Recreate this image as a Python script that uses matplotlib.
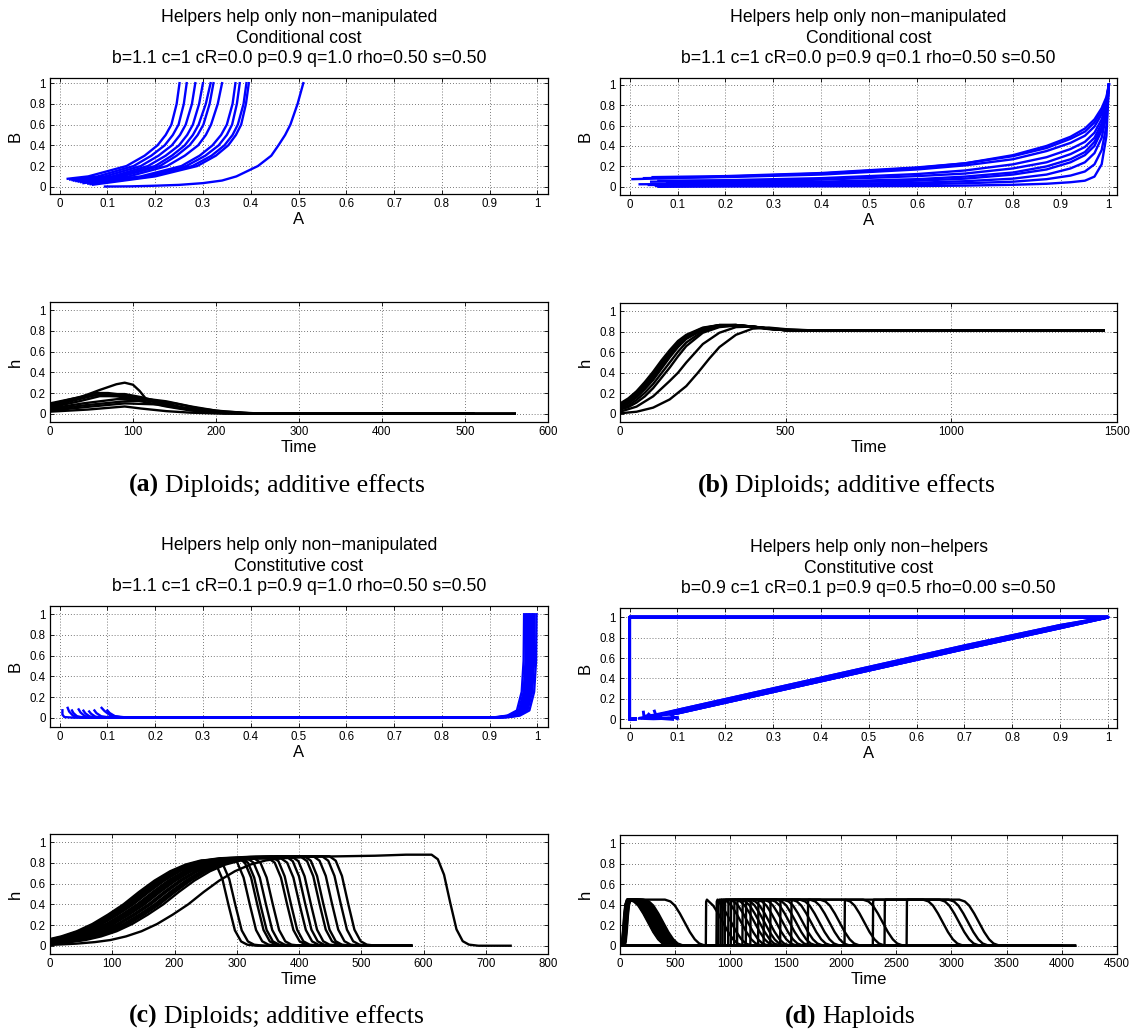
import matplotlib
matplotlib.use("Agg")
import matplotlib.pyplot as plt
from matplotlib.ticker import FuncFormatter

plt.rcParams['font.family'] = ['Liberation Sans', 'DejaVu Sans']

W, H = 1137, 1032
LW = 1.7

# ---------------- (a) top: B against A, read at fixed B levels
PA_B_LEVELS = [0.1, 0.2, 0.3, 0.4, 0.5, 0.6, 0.8, 1.0]
PA_LEADS = [
    [(0.017, 0.077)], [(0.022, 0.07)], [(0.027, 0.065)], [(0.03, 0.06)],
    [(0.035, 0.055)], [(0.04, 0.05)], [(0.045, 0.045)], [(0.05, 0.035)],
    [(0.06, 0.03)], [(0.065, 0.025)], [(0.07, 0.02)],
    [(0.095, 0.002), (0.15, 0.004), (0.2, 0.01), (0.25, 0.018), (0.3, 0.035), (0.34, 0.06)],
]
PA_A = [
    [0.06, 0.14, 0.178, 0.205, 0.222, 0.234, 0.245, 0.251],
    [0.08, 0.155, 0.192, 0.22, 0.237, 0.249, 0.260, 0.266],
    [0.095, 0.17, 0.207, 0.235, 0.252, 0.264, 0.277, 0.284],
    [0.11, 0.185, 0.222, 0.25, 0.267, 0.279, 0.292, 0.300],
    [0.12, 0.2, 0.235, 0.262, 0.279, 0.291, 0.306, 0.316],
    [0.13, 0.21, 0.245, 0.272, 0.289, 0.301, 0.314, 0.322],
    [0.145, 0.225, 0.262, 0.29, 0.306, 0.317, 0.331, 0.340],
    [0.17, 0.255, 0.293, 0.32, 0.338, 0.35, 0.362, 0.368],
    [0.18, 0.265, 0.305, 0.333, 0.35, 0.361, 0.371, 0.377],
    [0.19, 0.278, 0.318, 0.345, 0.362, 0.373, 0.385, 0.391],
    [0.2, 0.288, 0.327, 0.353, 0.369, 0.38, 0.390, 0.396],
    [0.37, 0.415, 0.443, 0.458, 0.472, 0.483, 0.498, 0.510],
]

# ---------------- (b) top: B read at fixed A levels
PB_A_LEVELS = [0.2, 0.4, 0.6, 0.7, 0.8, 0.87, 0.92, 0.95, 0.97, 0.985, 0.995, 1.0]
PB_START = [(0.006, 0.075), (0.048, 0.095), (0.03, 0.085), (0.06, 0.06), (0.045, 0.05),
            (0.021, 0.025), (0.078, 0.04), (0.055, 0.01), (0.06, 0.0), (0.04, 0.018)]
PB_B = [
    [0.10, 0.13, 0.185, 0.23, 0.31, 0.40, 0.49, 0.57, 0.66, 0.77, 0.88, 1.0],
    [0.105, 0.135, 0.19, 0.23, 0.30, 0.38, 0.47, 0.54, 0.63, 0.74, 0.86, 1.0],
    [0.095, 0.12, 0.17, 0.21, 0.27, 0.35, 0.43, 0.50, 0.59, 0.71, 0.84, 1.0],
    [0.065, 0.085, 0.125, 0.16, 0.22, 0.29, 0.37, 0.44, 0.53, 0.66, 0.81, 1.0],
    [0.055, 0.07, 0.105, 0.13, 0.18, 0.24, 0.32, 0.39, 0.48, 0.62, 0.78, 1.0],
    [0.03, 0.04, 0.06, 0.08, 0.12, 0.17, 0.24, 0.31, 0.40, 0.55, 0.74, 1.0],
    [0.042, 0.05, 0.075, 0.10, 0.14, 0.20, 0.27, 0.34, 0.44, 0.58, 0.76, 1.0],
    [0.012, 0.017, 0.025, 0.035, 0.05, 0.075, 0.11, 0.15, 0.22, 0.36, 0.6, 1.0],
    [0.003, 0.005, 0.008, 0.012, 0.02, 0.03, 0.045, 0.06, 0.1, 0.22, 0.5, 1.0],
    [0.02, 0.027, 0.04, 0.055, 0.08, 0.12, 0.18, 0.24, 0.33, 0.48, 0.70, 1.0],
]

# ---------------- (c) top: hooks near A=0, then climb near A=1
PC_LEADS = [
    [(0.006, 0.072), (0.006, 0.03), (0.01, 0.006), (0.03, 0.0)],
    [(0.017, 0.095), (0.02, 0.06), (0.028, 0.02), (0.045, 0.002)],
    [(0.026, 0.07), (0.029, 0.045), (0.037, 0.012), (0.055, 0.001)],
    [(0.04, 0.08), (0.044, 0.05), (0.053, 0.015), (0.07, 0.002)],
    [(0.05, 0.068), (0.054, 0.042), (0.063, 0.012), (0.08, 0.001)],
    [(0.062, 0.06), (0.066, 0.038), (0.075, 0.01), (0.09, 0.001)],
    [(0.073, 0.07), (0.077, 0.045), (0.087, 0.014), (0.105, 0.002)],
    [(0.088, 0.095), (0.094, 0.065), (0.106, 0.022), (0.13, 0.003)],
    [(0.1, 0.07), (0.105, 0.045), (0.116, 0.014), (0.14, 0.002)],
]
PC_TAIL = [(-0.1, 0.001), (-0.06, 0.005), (-0.035, 0.02), (-0.015, 0.07),
           (-0.005, 0.25), (-0.001, 0.55), (0.0, 1.0)]
PC_END = [0.972, 0.976, 0.979, 0.982, 0.985, 0.988, 0.991, 0.994, 0.998]

# ---------------- (d) top: loop origin -> (1,1) -> (0,1) -> origin
PD_LEADS = [
    [(0.1, 0.02), (0.07, 0.01), (0.03, 0.02)],
    [(0.09, 0.0), (0.06, 0.01), (0.04, 0.03)],
    [(0.029, 0.07), (0.03, 0.03), (0.05, 0.04)],
    [(0.052, 0.08), (0.055, 0.04), (0.07, 0.05)],
    [(0.08, 0.01), (0.05, 0.005), (0.02, 0.01)],
    [(0.065, 0.02), (0.045, 0.015), (0.06, 0.04)],
    [(0.1, 0.005), (0.09, 0.03), (0.085, 0.05)],
    [(0.04, 0.05), (0.035, 0.02), (0.08, 0.06)],
]
PD_DIAG_A = [0.1, 0.3, 0.5, 0.7, 0.9, 1.0]
PD_DIAG_B = [
    [0.06, 0.27, 0.48, 0.69, 0.895, 1.0],
    [0.075, 0.285, 0.495, 0.705, 0.91, 1.0],
    [0.09, 0.30, 0.51, 0.72, 0.92, 1.0],
]
PD_RETURN = [(0.0, 1.0), (0.0, 0.0), (0.012, 0.004)]

# ---------------- (a) bottom: h over time
HA_CURVES = [
    [(0, 0.08), (30, 0.14), (60, 0.23), (80, 0.285), (90, 0.30), (100, 0.28), (108, 0.22), (116, 0.14), (140, 0.09), (170, 0.04), (200, 0.015), (240, 0.003), (300, 0), (510, 0)],
    [(0, 0.09), (30, 0.15), (55, 0.2), (70, 0.2), (90, 0.18), (120, 0.13), (150, 0.07), (180, 0.03), (220, 0.008), (260, 0), (560, 0)],
    [(0, 0.07), (30, 0.13), (60, 0.19), (90, 0.19), (110, 0.16), (130, 0.12), (160, 0.06), (200, 0.015), (250, 0), (510, 0)],
    [(0, 0.05), (40, 0.1), (80, 0.14), (110, 0.15), (140, 0.12), (170, 0.07), (200, 0.03), (240, 0.005), (280, 0), (560, 0)],
    [(0, 0.04), (40, 0.08), (90, 0.12), (120, 0.13), (150, 0.1), (180, 0.05), (210, 0.02), (250, 0.003), (300, 0), (510, 0)],
    [(0, 0.03), (50, 0.07), (90, 0.1), (130, 0.09), (160, 0.05), (190, 0.02), (230, 0.004), (280, 0), (560, 0)],
    [(0, 0.02), (45, 0.04), (90, 0.07), (110, 0.05), (140, 0.025), (170, 0.01), (210, 0), (510, 0)],
    [(0, 0.06), (35, 0.12), (60, 0.17), (85, 0.17), (115, 0.13), (145, 0.08), (175, 0.035), (210, 0.01), (250, 0), (560, 0)],
    [(0, 0.1), (30, 0.15), (55, 0.18), (80, 0.17), (110, 0.12), (140, 0.07), (170, 0.03), (210, 0.007), (250, 0), (510, 0)],
]

# ---------------- (b) bottom
HB_CURVES = [
    [(0, 0.10), (25, 0.15), (50, 0.22), (75, 0.31), (100, 0.41), (125, 0.52), (150, 0.62), (175, 0.71), (200, 0.77), (250, 0.84), (300, 0.865), (350, 0.865), (400, 0.845), (450, 0.825), (500, 0.815), (600, 0.81), (1460, 0.81)],
    [(0, 0.09), (25, 0.14), (50, 0.205), (75, 0.29), (100, 0.39), (125, 0.50), (150, 0.60), (175, 0.695), (200, 0.76), (250, 0.835), (300, 0.865), (350, 0.865), (400, 0.848), (450, 0.828), (500, 0.815), (600, 0.81), (1460, 0.81)],
    [(0, 0.08), (25, 0.13), (50, 0.19), (75, 0.27), (100, 0.37), (125, 0.48), (150, 0.58), (175, 0.68), (200, 0.75), (250, 0.83), (300, 0.865), (350, 0.865), (400, 0.85), (450, 0.83), (500, 0.815), (600, 0.81), (1460, 0.81)],
    [(0, 0.07), (25, 0.115), (50, 0.175), (75, 0.255), (100, 0.35), (125, 0.46), (150, 0.565), (175, 0.665), (200, 0.74), (250, 0.825), (300, 0.862), (350, 0.865), (400, 0.85), (450, 0.83), (500, 0.815), (600, 0.81), (1460, 0.81)],
    [(0, 0.06), (25, 0.1), (50, 0.16), (75, 0.24), (100, 0.33), (125, 0.44), (150, 0.55), (175, 0.65), (200, 0.73), (250, 0.82), (300, 0.86), (350, 0.865), (400, 0.85), (450, 0.83), (500, 0.815), (600, 0.81), (1460, 0.81)],
    [(0, 0.05), (25, 0.08), (50, 0.135), (75, 0.205), (100, 0.29), (125, 0.395), (150, 0.5), (175, 0.605), (200, 0.695), (250, 0.805), (300, 0.852), (350, 0.862), (400, 0.85), (450, 0.83), (500, 0.815), (600, 0.81), (1460, 0.81)],
    [(0, 0.04), (25, 0.065), (50, 0.11), (75, 0.17), (100, 0.25), (125, 0.35), (150, 0.45), (175, 0.56), (200, 0.66), (250, 0.79), (300, 0.845), (350, 0.86), (400, 0.85), (450, 0.83), (500, 0.815), (600, 0.81), (1460, 0.81)],
    [(0, 0.02), (50, 0.07), (100, 0.17), (150, 0.32), (175, 0.40), (200, 0.50), (250, 0.68), (300, 0.79), (350, 0.845), (400, 0.85), (450, 0.835), (500, 0.82), (600, 0.81), (1460, 0.81)],
    [(0, 0.005), (50, 0.02), (100, 0.06), (150, 0.14), (200, 0.27), (235, 0.4), (270, 0.54), (300, 0.65), (350, 0.77), (400, 0.83), (450, 0.84), (500, 0.825), (600, 0.81), (1460, 0.81)],
]

# ---------------- (c) bottom: rise profile and fall profile
C_RISE_DT = [-230, -180, -150, -125, -100, -75, -50, -25, 0, 25, 50, 75, 100, 125, 150, 200, 250, 300, 350, 400, 450]
C_RISE_H = [0.005, 0.02, 0.035, 0.055, 0.09, 0.14, 0.21, 0.30, 0.40, 0.52, 0.63, 0.72, 0.785, 0.825, 0.845, 0.86, 0.865, 0.87, 0.88, 0.89, 0.895]
C_FALL_DT = [-30, -20, -10, 0, 10, 20, 30, 45]
C_FALL_F = [1.0, 0.95, 0.78, 0.47, 0.18, 0.05, 0.012, 0.0]
C_RISE_MID = [118, 140, 126, 150, 134, 162, 146, 170, 130, 176, 152, 182, 158, 122, 168, 142, 174, 222]
C_FALL_MID = [287, 298, 321, 333, 338, 347, 358, 381, 387, 401, 410, 419, 433, 439, 453, 467, 479, 643]
C_END = [580, 580, 580, 580, 560, 580, 580, 540, 580, 580, 580, 580, 580, 560, 580, 580, 500, 740]

# ---------------- (d) bottom
D_TOP = 0.45
D_RISE_SLOW = [(0, 0.0), (10, 0.04), (20, 0.15), (30, 0.3), (40, 0.4), (55, 0.45)]
D_RISE_FAST = [(0, 0.0), (3, 0.43), (10, 0.45)]
D_FALL = [(-180, 1.0), (-130, 0.96), (-90, 0.87), (-45, 0.7), (0, 0.5), (45, 0.3),
          (90, 0.14), (130, 0.05), (170, 0.015), (220, 0.0)]
G1_RISE = [8, 15, 22, 12, 28, 18, 34, 24, 10, 30, 38, 16, 42, 20, 26, 32]
G1_FALL = [256, 262, 270, 278, 285, 292, 300, 308, 316, 325, 335, 348, 362, 378, 392, 587]
G1_END = [760, 800, 780, 820, 790, 770, 810, 800, 760, 780, 800, 790, 770, 810, 800, 780]
G2_RISE = [777, 873, 889, 910, 928, 949, 979, 1003, 1033, 1060, 1108, 1139, 1180, 1250,
           1300, 1360, 1450, 1550, 1700, 2033, 2289, 2395, 2595]
G2_FALL = [934, 1009, 1099, 1160, 1220, 1265, 1310, 1355, 1416, 1476, 1536, 1596, 1657, 1732,
           1807, 1898, 1990, 2214, 2380, 2924, 3072, 3154, 3252]
G2_END = [3600, 3800, 4120, 3700, 3900, 4120, 3500, 3800, 4000, 3600, 4120, 3700, 3900,
          3800, 4000, 3600, 3700, 3900, 4120, 3800, 4000, 4120, 3900]

TITLES = [
    "Helpers help only non\u2212manipulated\nConditional cost\nb=1.1 c=1 cR=0.0 p=0.9 q=1.0 rho=0.50 s=0.50",
    "Helpers help only non\u2212manipulated\nConditional cost\nb=1.1 c=1 cR=0.0 p=0.9 q=0.1 rho=0.50 s=0.50",
    "Helpers help only non\u2212manipulated\nConstitutive cost\nb=1.1 c=1 cR=0.1 p=0.9 q=1.0 rho=0.50 s=0.50",
    "Helpers help only non\u2212helpers\nConstitutive cost\nb=0.9 c=1 cR=0.1 p=0.9 q=0.5 rho=0.00 s=0.50",
]
CAPTIONS = [("(a)", "Diploids; additive effects"), ("(b)", "Diploids; additive effects"),
            ("(c)", "Diploids; additive effects"), ("(d)", "Haploids")]

fig = plt.figure(figsize=(W / 100, H / 100), dpi=100)


def px_axes(x0, y0, x1, y1):
    return fig.add_axes([x0 / W, 1 - y1 / H, (x1 - x0) / W, (y1 - y0) / H])


fmt = FuncFormatter(lambda v, p: "%g" % round(v, 6))


def style(ax, xlim, ylim, xticks, xlabel, ylabel):
    ax.set_xlim(*xlim)
    ax.set_ylim(*ylim)
    ax.set_xticks(xticks)
    ax.set_yticks([0, 0.2, 0.4, 0.6, 0.8, 1])
    ax.xaxis.set_major_formatter(fmt)
    ax.yaxis.set_major_formatter(fmt)
    ax.grid(True, linestyle=(0, (1, 2.5)), color="0.3", linewidth=0.6)
    ax.set_axisbelow(True)
    ax.tick_params(direction="in", top=True, right=True, length=3, width=0.6,
                   labelsize=8.3, pad=3)
    for s in ax.spines.values():
        s.set_linewidth(0.9)
    ax.set_xlabel(xlabel, fontsize=12, labelpad=1)
    ax.set_ylabel(ylabel, fontsize=12, labelpad=5)


def title(ax, txt):
    ax.set_title(txt, fontsize=12.7, pad=10.5, linespacing=1.3)


phase_x = [0, 0.1, 0.2, 0.3, 0.4, 0.5, 0.6, 0.7, 0.8, 0.9, 1]

# ---- (a) top
ax = px_axes(50, 78, 548, 194)
for lead, arow in zip(PA_LEADS, PA_A):
    pts = list(lead) + list(zip(arow, PA_B_LEVELS))
    ax.plot([p[0] for p in pts], [p[1] for p in pts], color="b", lw=LW)
style(ax, (-0.02, 1.022), (-0.07, 1.05), phase_x, "A", "B")
title(ax, TITLES[0])

# ---- (b) top
ax = px_axes(620, 78, 1117, 195)
for st, brow in zip(PB_START, PB_B):
    xs = [st[0]] + PB_A_LEVELS
    ys = [st[1]] + brow
    ax.plot(xs, ys, color="b", lw=LW)
style(ax, (-0.02, 1.017), (-0.08, 1.065), phase_x, "A", "B")
title(ax, TITLES[1])

# ---- (c) top
ax = px_axes(50, 606, 548, 727)
for lead, aend in zip(PC_LEADS, PC_END):
    pts = list(lead) + [(aend + d, b) for d, b in PC_TAIL]
    ax.plot([p[0] for p in pts], [p[1] for p in pts], color="b", lw=LW)
style(ax, (-0.02, 1.022), (-0.09, 1.08), phase_x, "A", "B")
title(ax, TITLES[2])

# ---- (d) top
ax = px_axes(620, 608, 1117, 728)
for i, lead in enumerate(PD_LEADS):
    diag = list(zip(PD_DIAG_A, PD_DIAG_B[i % 3]))
    pts = list(lead) + diag + PD_RETURN
    ax.plot([p[0] for p in pts], [p[1] for p in pts], color="b", lw=LW + 0.4)
style(ax, (-0.02, 1.019), (-0.085, 1.09), phase_x, "A", "B")
title(ax, TITLES[3])

# ---- (a) bottom
ax = px_axes(50, 302, 548, 422)
for c in HA_CURVES:
    ax.plot([p[0] for p in c], [p[1] for p in c], color="k", lw=LW)
style(ax, (0, 600), (-0.08, 1.08), list(range(0, 601, 100)), "Time", "h")

# ---- (b) bottom
ax = px_axes(620, 303, 1117, 422)
for c in HB_CURVES:
    ax.plot([p[0] for p in c], [p[1] for p in c], color="k", lw=LW)
style(ax, (0, 1500), (-0.08, 1.08), [0, 500, 1000, 1500], "Time", "h")

# ---- (c) bottom
ax = px_axes(50, 834, 548, 954)
for rm, fm, te in zip(C_RISE_MID, C_FALL_MID, C_END):
    ts, hs = [], []
    for dt, hv in zip(C_RISE_DT, C_RISE_H):
        if rm + dt < fm + C_FALL_DT[0]:
            ts.append(rm + dt)
            hs.append(hv)
    top = hs[-1]
    for dt, f in zip(C_FALL_DT, C_FALL_F):
        ts.append(fm + dt)
        hs.append(top * f)
    ts.append(te)
    hs.append(0.0)
    ax.plot(ts, hs, color="k", lw=LW)
style(ax, (0, 800), (-0.08, 1.08), list(range(0, 801, 100)), "Time", "h")

# ---- (d) bottom
ax = px_axes(620, 835, 1117, 954)
groups = [(G1_RISE, G1_FALL, G1_END, D_RISE_SLOW), (G2_RISE, G2_FALL, G2_END, D_RISE_FAST)]
for rises, falls, ends, prof in groups:
    for tr, tf, te in zip(rises, falls, ends):
        ts = [0] + [tr + dt for dt, _ in prof]
        hs = [0.0] + [hv for _, hv in prof]
        last = ts[-1]
        for dt, f in D_FALL:
            if tf + dt > last:
                ts.append(tf + dt)
                hs.append(D_TOP * f)
        ts.append(te)
        hs.append(0.0)
        ax.plot(ts, hs, color="k", lw=LW)
style(ax, (0, 4500), (-0.08, 1.08), list(range(0, 4501, 500)), "Time", "h")

# ---- captions
cap_pos = [(159, 492), (729, 492), (158, 1023), (816, 1023)]
for (lab, txt), (x, y) in zip(CAPTIONS, cap_pos):
    fig.text(x / W, 1 - y / H, lab, ha="right", va="baseline", fontsize=18.5,
             fontweight="bold", family="Liberation Serif")
    fig.text((x + 6) / W, 1 - y / H, txt, ha="left", va="baseline", fontsize=18.5,
             family="Liberation Serif")

fig.savefig("out.png", dpi=100)
